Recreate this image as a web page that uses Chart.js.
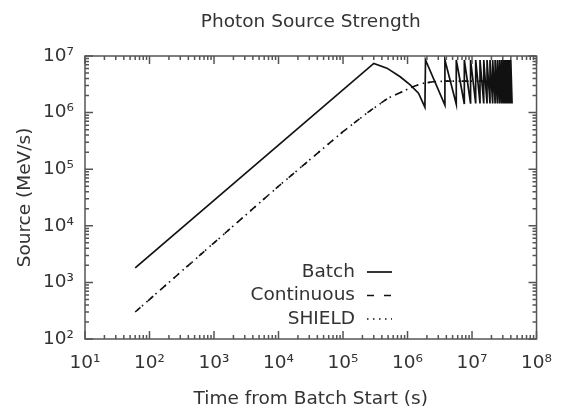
<!DOCTYPE html>
<html lang="en">
<head>
  <meta charset="UTF-8" />
  <title>Photon Source Strength</title>
  <script src="https://cdn.jsdelivr.net/npm/chart.js"></script>
  <style>
    html, body { margin: 0; padding: 0; background: #fff; }
    #chart { display: block; }
  </style>
</head>
<body>
  <canvas id="chart" width="565" height="408"></canvas>

  <script>
    // axis ticks (decades)
    const xTicks = [1e1, 1e2, 1e3, 1e4, 1e5, 1e6, 1e7, 1e8];
    const yTicks = [1e2, 1e3, 1e4, 1e5, 1e6, 1e7];

    // Batch: linear build-up, decay, then periodic refuelling sawtooth
    const batchTime = [
      60, 3.0e5, 4.8e5, 7.7e5, 1.1e6, 1.48e6, 1.86e6,
      1.9e6, 3.8e6, 3.8e6, 5.7e6, 5.7e6, 7.6e6, 7.6e6, 9.5e6, 9.5e6,
      1.14e7, 1.14e7, 1.33e7, 1.33e7, 1.52e7, 1.52e7, 1.71e7, 1.71e7,
      1.9e7, 1.9e7, 2.09e7, 2.09e7, 2.28e7, 2.28e7, 2.47e7, 2.47e7,
      2.66e7, 2.66e7, 2.85e7, 2.85e7, 3.04e7, 3.04e7, 3.23e7, 3.23e7,
      3.42e7, 3.42e7, 3.61e7, 3.61e7, 3.8e7, 3.8e7, 3.99e7, 3.99e7, 4.18e7
    ];
    const batchSource = [
      1800, 7.4e6, 6.1e6, 4.3e6, 3.1e6, 2.2e6, 1.25e6,
      8.5e6, 1.36e6, 8.5e6, 1.4e6, 8.5e6, 1.42e6, 8.5e6, 1.44e6, 8.5e6,
      1.45e6, 8.5e6, 1.45e6, 8.5e6, 1.45e6, 8.5e6, 1.45e6, 8.5e6,
      1.45e6, 8.5e6, 1.45e6, 8.5e6, 1.45e6, 8.5e6, 1.45e6, 8.5e6,
      1.45e6, 8.5e6, 1.45e6, 8.5e6, 1.45e6, 8.5e6, 1.45e6, 8.5e6,
      1.45e6, 8.5e6, 1.45e6, 8.5e6, 1.45e6, 8.5e6, 1.45e6, 8.5e6, 1.45e6
    ];

    // Continuous feed
    const contTime = [60, 1e3, 1e4, 1e5, 2.4e5, 5e5, 8.7e5, 1.24e6, 1.76e6, 2.5e6, 4e6, 1e7, 4.18e7];
    const contSource = [300, 5.0e3, 5.0e4, 4.6e5, 1.0e6, 1.8e6, 2.4e6, 2.9e6, 3.3e6, 3.5e6, 3.6e6, 3.6e6, 3.6e6];

    // SHIELD
    const shieldTime = [60, 1e3, 1e4, 1e5, 2.4e5, 5e5, 8.7e5, 1.24e6, 1.76e6, 2.5e6, 4e6, 1e7, 4.18e7];
    const shieldSource = [300, 5.0e3, 5.0e4, 4.6e5, 1.0e6, 1.8e6, 2.4e6, 2.9e6, 3.3e6, 3.5e6, 3.6e6, 3.6e6, 3.6e6];

    const seriesNames = ['Batch', 'Continuous', 'SHIELD'];

    const sup = { 1: '\u00b9', 2: '\u00b2', 3: '\u00b3', 4: '\u2074', 5: '\u2075', 6: '\u2076', 7: '\u2077', 8: '\u2078' };
    function powLabel(value) {
      const e = Math.round(Math.log10(value));
      return '10' + sup[e];
    }

    function points(xs, ys) {
      return xs.map((x, i) => ({ x: x, y: ys[i] }));
    }

    const FONT = "'DejaVu Sans', sans-serif";
    const INK = '#333';
    const AXIS = '#555';

    Chart.defaults.font.family = FONT;
    Chart.defaults.color = INK;

    // frame + inward ticks on all four sides (gnuplot look)
    const framePlugin = {
      id: 'frame',
      afterDatasetsDraw(chart) {
        const { ctx, chartArea: a, scales } = chart;
        ctx.save();
        ctx.strokeStyle = AXIS;
        ctx.lineWidth = 1.5;
        ctx.setLineDash([]);
        ctx.beginPath();
        const tick = (dir, scale, decades) => {
          decades.forEach((d) => {
            for (let m = 1; m <= 9; m++) {
              const v = d * m;
              if (v < scale.min || v > scale.max) continue;
              const len = m === 1 ? 8 : 4;
              const p = scale.getPixelForValue(v);
              if (dir === 'x') {
                ctx.moveTo(p, a.bottom); ctx.lineTo(p, a.bottom - len);
                ctx.moveTo(p, a.top); ctx.lineTo(p, a.top + len);
              } else {
                ctx.moveTo(a.left, p); ctx.lineTo(a.left + len, p);
                ctx.moveTo(a.right, p); ctx.lineTo(a.right - len, p);
              }
            }
          });
        };
        tick('x', scales.x, xTicks);
        tick('y', scales.y, yTicks);
        ctx.stroke();
        ctx.strokeRect(a.left, a.top, a.right - a.left, a.bottom - a.top);

        // title
        ctx.fillStyle = INK;
        ctx.font = '18.5px ' + FONT;
        ctx.textAlign = 'center';
        ctx.textBaseline = 'alphabetic';
        ctx.fillText('Photon Source Strength', (a.left + a.right) / 2, 26.5);

        // key, gnuplot style: label then sample
        const rows = [272, 295.5, 319];
        chart.data.datasets.forEach((ds, i) => {
          ctx.fillStyle = INK;
          ctx.textAlign = 'right';
          ctx.textBaseline = 'middle';
          ctx.fillText(ds.label, 355, rows[i]);
          ctx.strokeStyle = ds.borderColor;
          ctx.lineWidth = ds.borderWidth;
          ctx.setLineDash(ds.borderDash || []);
          ctx.beginPath();
          ctx.moveTo(367, rows[i]);
          ctx.lineTo(392, rows[i]);
          ctx.stroke();
        });
        ctx.restore();
      }
    };

    new Chart(document.getElementById('chart'), {
      type: 'line',
      data: {
        datasets: [
          {
            label: seriesNames[0],
            data: points(batchTime, batchSource),
            borderColor: '#111',
            borderWidth: 1.7,
            pointRadius: 0,
            tension: 0
          },
          {
            label: seriesNames[1],
            data: points(contTime, contSource),
            borderColor: '#111',
            borderWidth: 1.6,
            borderDash: [7, 10],
            pointRadius: 0,
            tension: 0
          },
          {
            label: seriesNames[2],
            data: points(shieldTime, shieldSource),
            borderColor: '#111',
            borderWidth: 1.6,
            borderDash: [1.5, 4.5],
            borderDashOffset: 3,
            pointRadius: 0,
            tension: 0
          }
        ]
      },
      options: {
        responsive: false,
        animation: false,
        devicePixelRatio: 1,
        layout: { padding: { top: 56, right: 24, bottom: 0, left: 0 } },
        plugins: {
          legend: { display: false },
          tooltip: { enabled: false },
          title: { display: false }
        },
        scales: {
          x: {
            type: 'logarithmic',
            min: 1e1,
            max: 1e8,
            grid: { display: false, drawTicks: false },
            border: { display: false },
            afterBuildTicks: (s) => { s.ticks = xTicks.map((v) => ({ value: v })); },
            afterFit: (s) => { s.height = 69; },
            ticks: {
              callback: powLabel,
              font: { size: 18.5 },
              color: INK,
              padding: 13,
              maxRotation: 0,
              autoSkip: false
            },
            title: {
              display: true,
              text: 'Time from Batch Start (s)',
              font: { size: 18.5, lineHeight: 1 },
              color: INK,
              padding: 0
            }
          },
          y: {
            type: 'logarithmic',
            min: 1e2,
            max: 1e7,
            grid: { display: false, drawTicks: false },
            border: { display: false },
            afterBuildTicks: (s) => { s.ticks = yTicks.map((v) => ({ value: v })); },
            afterFit: (s) => { s.width = 85; },
            ticks: {
              callback: powLabel,
              font: { size: 18.5 },
              color: INK,
              padding: 11,
              autoSkip: false
            },
            title: {
              display: true,
              text: 'Source (MeV/s)',
              font: { size: 18.5 },
              color: INK,
              padding: { top: 13.6, bottom: 0 }
            }
          }
        }
      },
      plugins: [framePlugin]
    });
  </script>
</body>
</html>
